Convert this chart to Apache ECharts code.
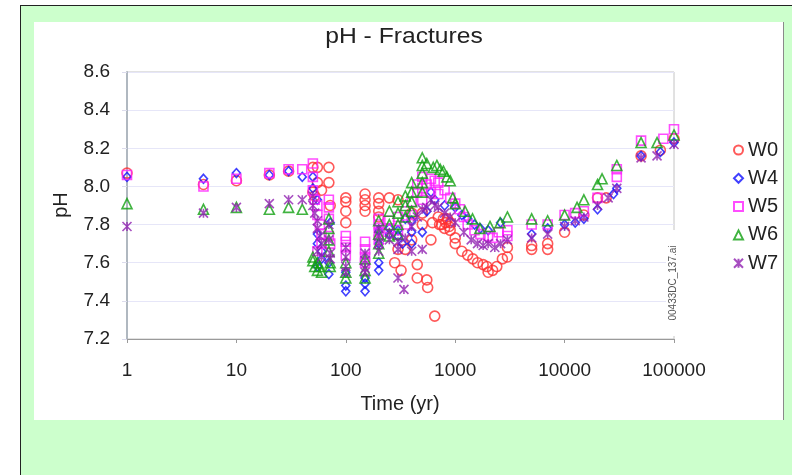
<!DOCTYPE html>
<html>
<head>
<meta charset="utf-8">
<script src="https://cdn.jsdelivr.net/npm/echarts@6/dist/echarts.min.js"></script>
<style>
html, body { margin: 0; padding: 0; background: #fff; width: 792px; height: 475px; overflow: hidden; }
#frame { position: absolute; left: 20px; top: 5px; right: 0; bottom: 0; background: #ccffcc; border-left: 1.5px solid #222; border-top: 1.5px solid #222; }
#panel { position: absolute; left: 34px; top: 22px; width: 749px; height: 398px; background: #fff; border-right: 1px solid #8a8a8a; }
#chart { position: absolute; left: 0; top: 0; width: 792px; height: 475px; }
</style>
</head>
<body>
<div id="frame"></div>
<div id="panel"></div>
<div id="chart"></div>
<script>
// pH in fractures over time, one array of [time (yr), pH] per water type
const W0 = [
  [1, 8.07], [5, 8.01], [10, 8.03], [20, 8.06], [30, 8.08],
  [50, 8.10], [50, 7.97], [52, 7.95], [55, 8.10], [55, 8.02], [60, 7.98],
  [70, 8.10], [70, 8.02], [72, 7.90],
  [100, 7.94], [100, 7.92], [100, 7.87], [100, 7.81],
  [150, 7.96], [150, 7.93], [150, 7.90], [150, 7.87],
  [200, 7.94], [200, 7.91], [200, 7.87], [200, 7.84],
  [250, 7.94], [300, 7.93], [280, 7.60], [320, 7.56], [350, 7.67], [300, 7.67],
  [400, 7.72], [400, 7.86], [450, 7.59], [450, 7.52], [500, 7.86], [500, 7.80],
  [550, 7.51], [560, 7.47], [650, 7.32],
  [600, 7.72], [620, 7.81], [700, 7.84], [720, 7.80], [750, 7.80], [780, 7.83], [800, 7.78],
  [820, 7.81], [850, 7.83], [880, 7.79], [900, 7.77], [900, 7.81],
  [1000, 7.73], [1000, 7.70], [1150, 7.66], [1300, 7.64], [1450, 7.62], [1600, 7.60],
  [1800, 7.59], [1950, 7.58], [2000, 7.55], [2200, 7.56], [2400, 7.58], [2700, 7.62],
  [3000, 7.68], [3000, 7.63],
  [5000, 7.69], [5000, 7.67], [7000, 7.70], [7000, 7.67],
  [10000, 7.76], [15000, 7.85], [20000, 7.94], [24000, 7.94],
  [50000, 8.16], [75000, 8.19], [100000, 8.25]
];
const W4 = [
  [1, 8.05], [5, 8.04], [10, 8.07], [20, 8.06], [30, 8.08], [40, 8.05],
  [50, 8.05], [50, 7.99], [55, 7.93], [55, 7.75], [55, 7.70], [60, 7.66], [60, 7.62], [55, 7.58],
  [72, 7.81], [70, 7.60], [70, 7.54],
  [100, 7.55], [100, 7.48], [100, 7.45],
  [150, 7.52], [150, 7.49], [150, 7.45],
  [200, 7.77], [200, 7.70], [200, 7.60], [200, 7.56],
  [250, 7.75], [250, 7.78], [300, 7.74], [300, 7.77], [330, 7.70],
  [350, 7.83], [400, 7.76], [400, 7.82], [400, 7.70],
  [500, 7.76], [550, 7.87], [600, 7.97], [650, 7.93],
  [800, 7.90], [1000, 7.89], [1150, 7.85], [1300, 7.83], [1500, 7.80], [1700, 7.78],
  [2000, 7.77], [2600, 7.81],
  [5000, 7.75], [7000, 7.78], [10000, 7.80], [12500, 7.81], [15000, 7.83],
  [20000, 7.88], [28000, 7.96], [30000, 7.99],
  [50000, 8.16], [75000, 8.18], [100000, 8.23]
];
const W5 = [
  [1, 8.06], [5, 8.00], [10, 8.04], [20, 8.07], [30, 8.09], [40, 8.09],
  [50, 8.12], [50, 8.05], [50, 7.98], [52, 7.93], [55, 7.90], [55, 7.85], [58, 7.80],
  [60, 7.75], [60, 7.70], [55, 7.66],
  [70, 7.93], [70, 7.89], [70, 7.83], [70, 7.74], [72, 7.70],
  [100, 7.74], [100, 7.71], [100, 7.68], [100, 7.64],
  [150, 7.71], [150, 7.67], [150, 7.63], [150, 7.60],
  [200, 7.83], [200, 7.80], [200, 7.76], [200, 7.72],
  [250, 7.82], [250, 7.78], [300, 7.84], [300, 7.77], [350, 7.87], [350, 7.80],
  [400, 7.92], [400, 7.85], [450, 7.97], [450, 8.01],
  [500, 8.05], [500, 7.99], [500, 7.93], [550, 8.01], [600, 8.04], [600, 7.97],
  [650, 8.03], [700, 8.02], [700, 7.96], [800, 7.98], [900, 7.94],
  [1000, 7.91], [1100, 7.88], [1200, 7.84], [1300, 7.80], [1500, 7.77], [1700, 7.75],
  [2000, 7.74], [2200, 7.73], [2500, 7.76], [3000, 7.74], [3000, 7.77],
  [5000, 7.80], [7000, 7.80], [10000, 7.85], [12500, 7.86], [15000, 7.87],
  [20000, 7.94], [30000, 8.05], [30000, 8.09],
  [50000, 8.24], [80000, 8.25], [100000, 8.30]
];
const W6 = [
  [1, 7.91], [5, 7.88], [10, 7.89], [20, 7.88], [30, 7.89], [40, 7.88],
  [50, 7.63], [50, 7.61], [52, 7.58], [55, 7.56], [55, 7.60], [58, 7.58], [60, 7.55],
  [70, 7.83], [70, 7.78], [70, 7.72], [70, 7.66], [72, 7.58], [72, 7.60],
  [100, 7.60], [100, 7.55], [100, 7.52],
  [150, 7.62], [150, 7.56], [150, 7.52],
  [200, 7.82], [200, 7.75], [200, 7.70], [200, 7.65],
  [250, 7.87], [250, 7.80], [250, 7.74], [300, 7.92], [300, 7.86], [300, 7.80], [300, 7.75],
  [350, 7.95], [350, 7.90], [350, 7.84], [400, 8.02], [400, 7.97], [400, 7.92], [400, 7.87],
  [500, 8.15], [500, 8.11], [500, 8.07], [500, 8.02], [500, 7.97],
  [550, 8.12], [630, 8.10], [680, 8.11], [730, 8.09], [780, 8.08], [840, 8.05], [900, 8.03],
  [950, 7.94], [1000, 7.91], [1230, 7.87], [1440, 7.83], [1680, 7.78], [2080, 7.79],
  [2570, 7.81], [3000, 7.84],
  [5000, 7.83], [7000, 7.82], [10000, 7.85], [13000, 7.89], [15000, 7.93],
  [20000, 8.01], [22000, 8.04], [30000, 8.11],
  [50000, 8.23], [70000, 8.23], [100000, 8.27]
];
const W7 = [
  [1, 7.79], [5, 7.86], [10, 7.89], [20, 7.91], [30, 7.93], [40, 7.93],
  [50, 7.95], [50, 7.90], [52, 7.86], [55, 7.82], [55, 7.78], [58, 7.74], [60, 7.70],
  [55, 7.66], [60, 7.63],
  [70, 7.80], [70, 7.72], [72, 7.65], [72, 7.62],
  [100, 7.68], [100, 7.63], [100, 7.58], [100, 7.55],
  [150, 7.65], [150, 7.61], [150, 7.57], [150, 7.55],
  [200, 7.78], [200, 7.74], [200, 7.70], [200, 7.66],
  [250, 7.72], [250, 7.76], [300, 7.67], [300, 7.71], [300, 7.52], [340, 7.46],
  [350, 7.73], [400, 7.79], [400, 7.66], [450, 7.84], [500, 7.67], [500, 7.88],
  [550, 7.89], [600, 7.93], [650, 7.90], [700, 7.89], [800, 7.86], [900, 7.84],
  [1000, 7.81], [1200, 7.76], [1400, 7.72], [1600, 7.70], [1800, 7.69], [2000, 7.70],
  [2300, 7.68], [2600, 7.70], [3000, 7.72],
  [5000, 7.73], [7000, 7.75], [10000, 7.79], [12500, 7.82], [15000, 7.84],
  [20000, 7.90], [25000, 7.94], [30000, 7.99],
  [50000, 8.15], [70000, 8.16], [100000, 8.22]
];

const seriesNames = ['W0', 'W4', 'W5', 'W6', 'W7'];
const seriesData = [W0, W4, W5, W6, W7];
const yTicks = { min: 7.2, max: 8.6, step: 0.2 };
const xRange = { min: 1, max: 100000 };

const FONT = '"Liberation Sans", Arial, sans-serif';
const STAR = 'path://M0,0L10,10M10,0L0,10M5,0L5,10';
const markers = [
  { symbol: 'circle', size: 10, color: '#ff3030' },
  { symbol: 'diamond', size: [8, 9], color: '#1010ff' },
  { symbol: 'rect', size: 9, color: '#ff20ff' },
  { symbol: 'triangle', size: 10, color: '#10a010' },
  { symbol: STAR, size: 9, color: '#9020b0' }
];

const chart = echarts.init(document.getElementById('chart'), null, { renderer: 'canvas' });

chart.setOption({
  animation: false,
  textStyle: { fontFamily: FONT },
  grid: { left: 127, top: 72, width: 547, height: 267, show: true, borderColor: '#c4c4c4', borderWidth: 1, backgroundColor: 'transparent' },
  legend: {
    orient: 'vertical', left: 733, top: 140, padding: 0,
    itemWidth: 9, itemHeight: 9, itemGap: 8.3,
    textStyle: { fontSize: 20, color: '#222', fontFamily: FONT, lineHeight: 20 },
    data: seriesNames
  },
  xAxis: {
    type: 'log', logBase: 10, min: xRange.min, max: xRange.max,
    axisLine: { show: true, lineStyle: { color: '#9a9a9a', width: 1 } },
    axisTick: { show: true, length: 4, lineStyle: { color: '#9a9a9a' } },
    axisLabel: { fontSize: 19, color: '#222', margin: 22, fontFamily: FONT, formatter: v => String(Math.round(v)) },
    splitLine: { show: false }
  },
  yAxis: {
    type: 'value', min: yTicks.min, max: yTicks.max, interval: yTicks.step,
    axisLine: { show: true, lineStyle: { color: '#b0b8c0', width: 2 } },
    axisTick: { show: true, length: 5, lineStyle: { color: '#dcdcec' } },
    axisLabel: { fontSize: 19, color: '#222', margin: 17, fontFamily: FONT, formatter: v => v.toFixed(1) },
    splitLine: { show: true, lineStyle: { color: '#e6e6f8', width: 1 } }
  },
  series: seriesNames.map((name, i) => ({
    name, type: 'scatter',
    data: seriesData[i],
    symbol: markers[i].symbol,
    symbolSize: markers[i].size,
    itemStyle: { color: 'rgba(0,0,0,0)', borderColor: markers[i].color, borderWidth: 1.6 },
    emphasis: { disabled: true }
  })),
  graphic: [
    { type: 'text', x: 404, y: 37, scaleX: 1.12, style: { text: 'pH - Fractures', font: '22px ' + FONT, fill: '#222', align: 'center', verticalAlign: 'middle' } },
    { type: 'text', x: 400, y: 404, style: { text: 'Time (yr)', font: '20px ' + FONT, fill: '#222', align: 'center', verticalAlign: 'middle' } },
    { type: 'text', x: 61, y: 205, rotation: Math.PI / 2, style: { text: 'pH', font: '20px ' + FONT, fill: '#222', align: 'center', verticalAlign: 'middle' } },
    { type: 'rect', shape: { x: 666, y: 230, width: 15, height: 106 }, style: { fill: '#fff' }, z: 50 },
    { type: 'text', x: 673, y: 283, rotation: Math.PI / 2, z: 51, style: { text: '00433DC_137.ai', font: '10px ' + FONT, fill: '#555', align: 'center', verticalAlign: 'middle' } }
  ]
});
</script>
</body>
</html>
